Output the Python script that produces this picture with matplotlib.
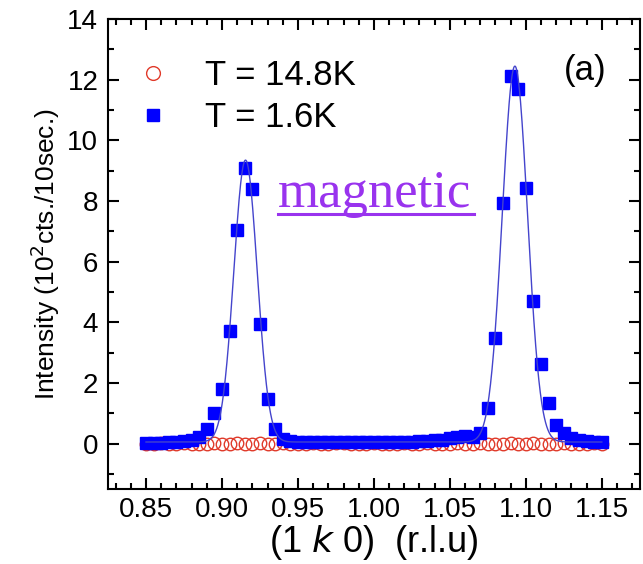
"""
Neutron scan along (1 k 0): magnetic peaks at T = 1.6K vs flat background at T = 14.8K.
"""

import matplotlib
matplotlib.use("Agg")
import numpy as np
import matplotlib.pyplot as plt
from matplotlib.ticker import MultipleLocator

# scan positions (r.l.u)
k_vals = [0.850, 0.855, 0.860, 0.865, 0.870, 0.875, 0.880, 0.885, 0.890, 0.895,
          0.900, 0.905, 0.910, 0.915, 0.920, 0.925, 0.930, 0.935, 0.940, 0.945,
          0.950, 0.955, 0.960, 0.965, 0.970, 0.975, 0.980, 0.985, 0.990, 0.995,
          1.000, 1.005, 1.010, 1.015, 1.020, 1.025, 1.030, 1.035, 1.040, 1.045,
          1.050, 1.055, 1.060, 1.065, 1.070, 1.075, 1.080, 1.085, 1.090, 1.095,
          1.100, 1.105, 1.110, 1.115, 1.120, 1.125, 1.130, 1.135, 1.140, 1.145,
          1.150]

# T = 1.6K
cold = [0.02, 0.03, 0.03, 0.05, 0.06, 0.07, 0.12, 0.20, 0.47, 1.00,
        1.81, 3.71, 7.04, 9.08, 8.39, 3.94, 1.47, 0.47, 0.15, 0.08,
        0.06, 0.05, 0.04, 0.05, 0.04, 0.05, 0.04, 0.05, 0.04, 0.04,
        0.05, 0.04, 0.05, 0.04, 0.05, 0.06, 0.07, 0.08, 0.10, 0.12,
        0.18, 0.22, 0.24, 0.22, 0.34, 1.16, 3.47, 7.95, 12.12, 11.69,
        8.44, 4.71, 2.61, 1.33, 0.61, 0.34, 0.17, 0.10, 0.08, 0.06,
        0.05]

# T = 14.8K
warm = [0.00, -0.01, 0.01, 0.00, -0.02, 0.01, 0.00, -0.01, 0.00, 0.01,
        -0.01, 0.00, 0.01, -0.01, 0.00, 0.01, -0.01, 0.00, 0.01, 0.00,
        -0.01, 0.00, 0.01, 0.00, -0.01, 0.01, 0.02, 0.00, -0.01, 0.00,
        0.01, 0.00, -0.01, 0.00, 0.01, -0.01, 0.00, 0.01, 0.00, -0.01,
        0.00, 0.01, -0.01, 0.00, 0.01, 0.00, -0.01, 0.00, 0.01, 0.00,
        -0.01, 0.01, 0.00, -0.01, 0.00, 0.01, 0.00, -0.01, 0.00, 0.01,
        0.00]

# gaussian fit (background, centre, height, sigma)
fit_bg = 0.05
fit_centres = [0.9155, 1.0928]
fit_heights = [9.30, 12.40]
fit_sigmas = [0.0077, 0.0083]

plt.rcParams["font.family"] = ["Liberation Sans", "DejaVu Sans"]

fig = plt.figure(figsize=(6.43, 5.64), dpi=100)
ax = fig.add_axes([0.168, 0.133, 0.827, 0.833])

kk = np.linspace(0.85, 1.15, 1201)
fit = np.full_like(kk, fit_bg)
for c, h, s in zip(fit_centres, fit_heights, fit_sigmas):
    fit += h * np.exp(-(kk - c) ** 2 / (2 * s ** 2))

ax.plot(k_vals, warm, "o", mfc="none", mec="#e03a2a", mew=1.0, ms=9,
        label="T = 14.8K", zorder=2)
ax.plot(k_vals, cold, "s", color="#0000ff", ms=8, label="T = 1.6K", zorder=3)
ax.plot(kk, fit, "-", color="#4444cc", lw=1.0, zorder=4)

ax.set_xlim(0.825, 1.175)
ax.set_ylim(-1.5, 14)
ax.xaxis.set_major_locator(MultipleLocator(0.05))
ax.xaxis.set_minor_locator(MultipleLocator(0.01))
ax.yaxis.set_major_locator(MultipleLocator(2))
ax.yaxis.set_minor_locator(MultipleLocator(1))
ax.xaxis.set_major_formatter(plt.FormatStrFormatter("%.2f"))

ax.tick_params(which="both", direction="in", top=True, right=True, width=1.5)
ax.tick_params(which="major", length=8, labelsize=20, pad=7)
ax.tick_params(axis="x", which="major", pad=6)
ax.tick_params(which="minor", length=4.5)
for sp in ax.spines.values():
    sp.set_linewidth(1.5)

ax.set_xlabel(r"(1 $k$ 0)  (r.l.u)", fontsize=26, labelpad=0)
ax.set_ylabel(r"Intensity (10$^{2}$cts./10sec.)", fontsize=19, labelpad=4)

ax.legend(loc="upper left", bbox_to_anchor=(0.006, 0.966), frameon=False,
          fontsize=25, handlelength=1.0, handletextpad=1.0, borderaxespad=0.3,
          labelspacing=0.25, markerscale=1.1)

ax.text(0.938, 0.891, "(a)", transform=ax.transAxes, ha="right", va="center",
        fontsize=25)

ax.text(0.9368, 7.8, "magnetic", ha="left", va="baseline", fontsize=38,
        family="Liberation Serif", color="#9933ee")
ax.plot([0.9368, 1.0658], [7.57, 7.57], color="#9933ee", lw=2.2)

fig.savefig("out.png", dpi=100)
plt.close()
